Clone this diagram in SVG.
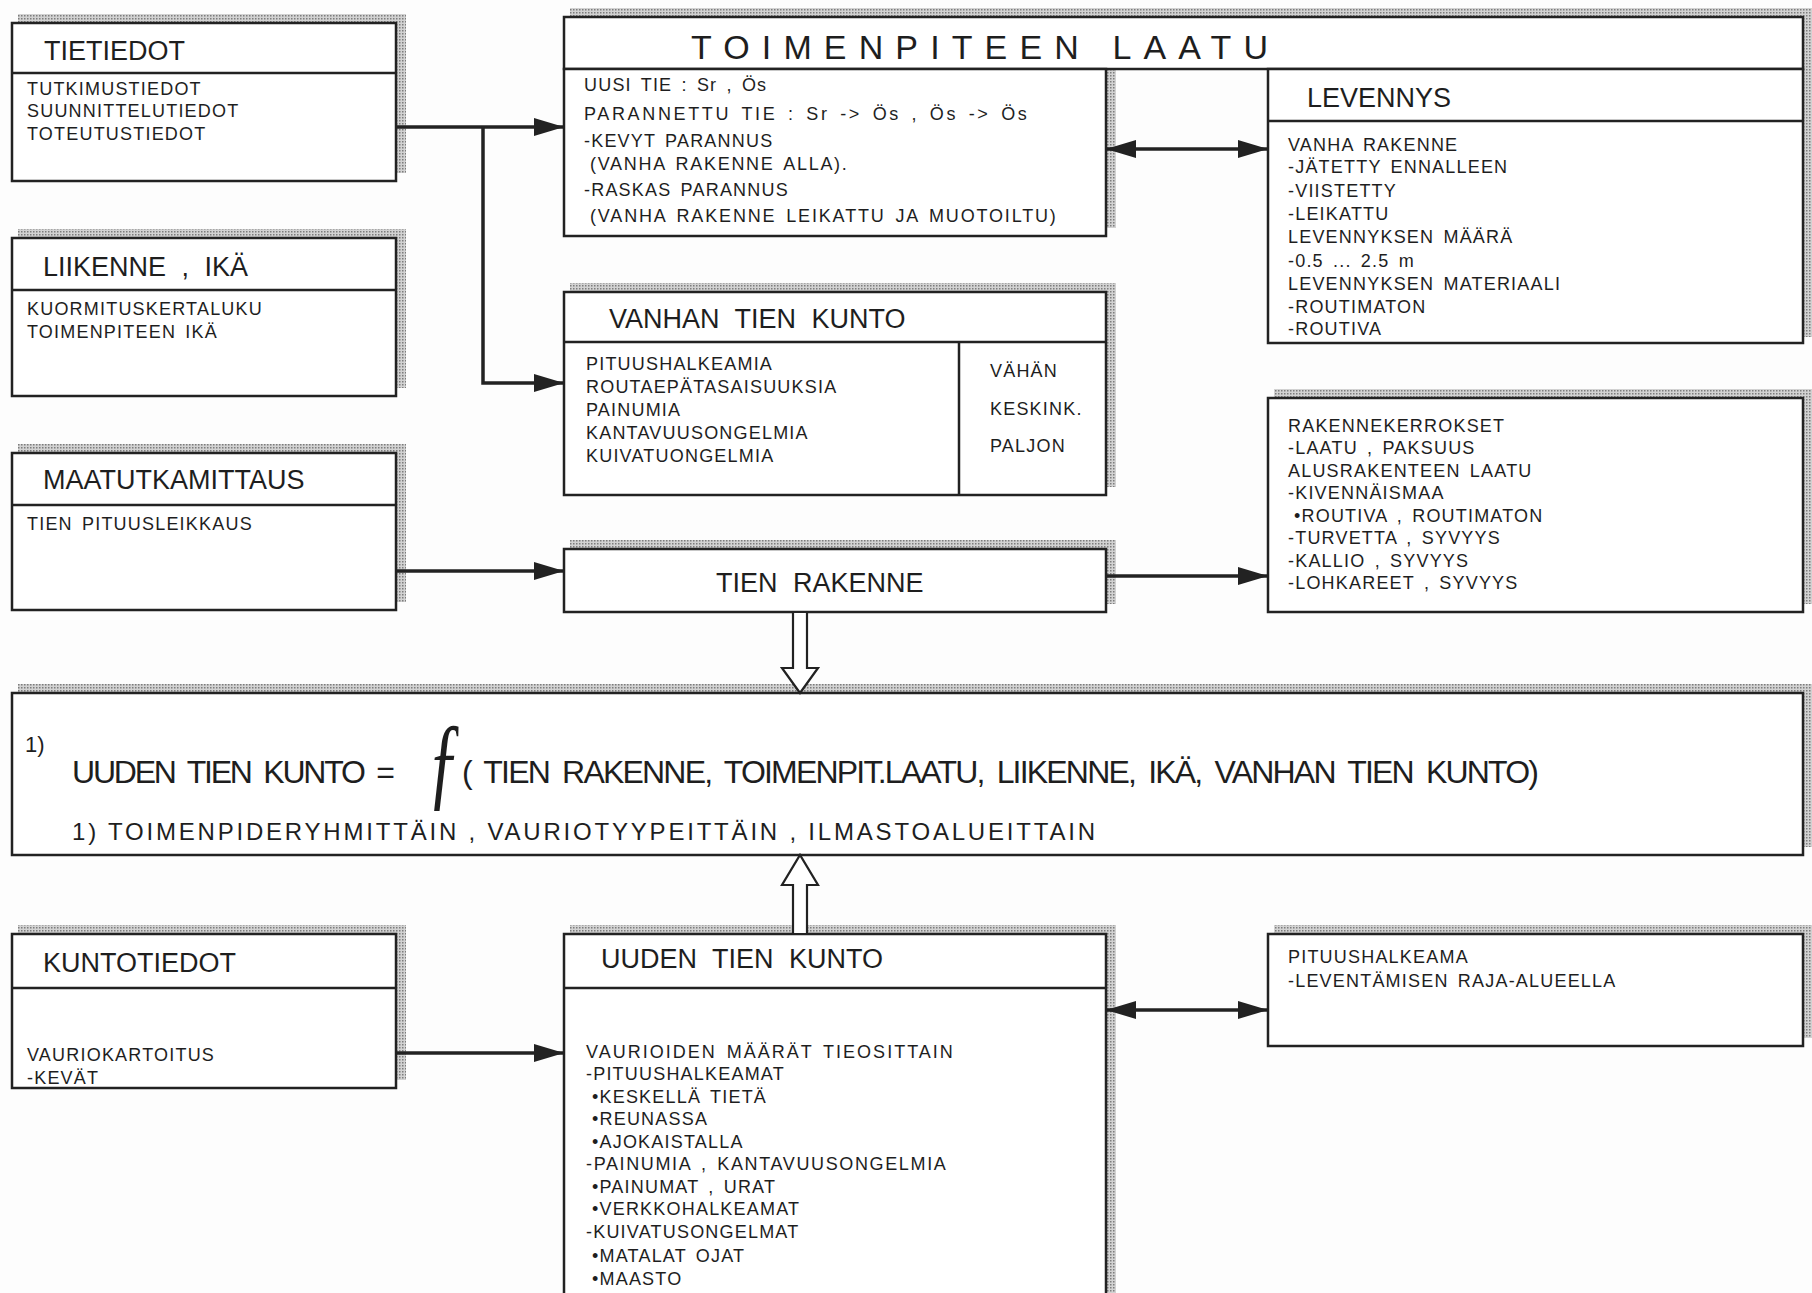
<svg xmlns="http://www.w3.org/2000/svg" width="1812" height="1293" viewBox="0 0 1812 1293">
<style>
.box{fill:#fff;stroke:#222;stroke-width:2.5}
.ln{fill:none;stroke:#222;stroke-width:2.5}
.sh{fill:url(#dots);stroke:none}
text{font-family:"Liberation Sans",Arial,sans-serif;fill:#1e1e1e}
.t{font-size:27px;word-spacing:8px}
.b{font-size:18px;letter-spacing:1.2px;word-spacing:3px}
.f{font-size:32px;word-spacing:6px}
.con{fill:none;stroke:#222;stroke-width:3.5}
.hol{fill:#fff;stroke:#222;stroke-width:2.2}
</style>
<defs>
<pattern id="dots" width="3" height="3" patternUnits="userSpaceOnUse"><rect width="3" height="3" fill="#d2d2d2"/><rect width="1.5" height="1.5" fill="#7c7c7c"/></pattern>
<marker id="ah" viewBox="0 0 30 18" markerWidth="30" markerHeight="18" refX="30" refY="9" orient="auto-start-reverse" markerUnits="userSpaceOnUse"><path d="M0,0 L30,9 L0,18 Z" fill="#222"/></marker>
</defs>
<rect width="1812" height="1293" fill="#fdfdfd"/>

<g id="tietiedot">
<path class="sh" d="M18,14 H406 V173 H396 V23 H18 Z"/>
<rect class="box" x="12" y="23" width="384" height="158"/>
<line class="ln" x1="12" y1="73" x2="396" y2="73"/>
<text class="t" x="44" y="60">TIETIEDOT</text>
<text class="b" x="27" y="95">TUTKIMUSTIEDOT</text>
<text class="b" x="27" y="117">SUUNNITTELUTIEDOT</text>
<text class="b" x="27" y="140">TOTEUTUSTIEDOT</text>
</g>

<g id="liikenne">
<path class="sh" d="M18,229 H406 V388 H396 V238 H18 Z"/>
<rect class="box" x="12" y="238" width="384" height="158"/>
<line class="ln" x1="12" y1="290" x2="396" y2="290"/>
<text class="t" x="43" y="276">LIIKENNE , IKÄ</text>
<text class="b" x="27" y="315">KUORMITUSKERTALUKU</text>
<text class="b" x="27" y="338">TOIMENPITEEN IKÄ</text>
</g>

<g id="maatutkamittaus">
<path class="sh" d="M18,444 H406 V602 H396 V453 H18 Z"/>
<rect class="box" x="12" y="453" width="384" height="157"/>
<line class="ln" x1="12" y1="505" x2="396" y2="505"/>
<text class="t" x="43" y="489">MAATUTKAMITTAUS</text>
<text class="b" x="27" y="530">TIEN PITUUSLEIKKAUS</text>
</g>

<g id="kuntotiedot">
<path class="sh" d="M18,925 H406 V1080 H396 V934 H18 Z"/>
<rect class="box" x="12" y="934" width="384" height="154"/>
<line class="ln" x1="12" y1="988" x2="396" y2="988"/>
<text class="t" x="43" y="972">KUNTOTIEDOT</text>
<text class="b" x="27" y="1061">VAURIOKARTOITUS</text>
<text class="b" x="27" y="1084">-KEVÄT</text>
</g>

<g id="toimenpiteen-laatu">
<path class="sh" d="M570,8 H1812 V337 H1803 V17 H570 Z"/>
<path class="sh" d="M1106,69 H1116 V228 H1106 Z"/>
<rect class="box" x="564" y="17" width="1239" height="52"/>
<text x="691" y="59" font-size="34" textLength="577" lengthAdjust="spacing">TOIMENPITEEN LAATU</text>
<rect class="box" x="564" y="69" width="542" height="167"/>
<text class="b" x="584" y="91">UUSI TIE : Sr , Ös</text>
<text class="b" x="584" y="120" textLength="444" lengthAdjust="spacing">PARANNETTU TIE : Sr -&gt; Ös , Ös -&gt; Ös</text>
<text class="b" x="584" y="147">-KEVYT PARANNUS</text>
<text class="b" x="590" y="170" textLength="258" lengthAdjust="spacing">(VANHA RAKENNE ALLA).</text>
<text class="b" x="584" y="196">-RASKAS PARANNUS</text>
<text class="b" x="590" y="222" textLength="467" lengthAdjust="spacing">(VANHA RAKENNE LEIKATTU JA MUOTOILTU)</text>
</g>

<g id="levennys">
<rect class="box" x="1268" y="69" width="535" height="274"/>
<line class="ln" x1="1268" y1="121" x2="1803" y2="121"/>
<text class="t" x="1307" y="107">LEVENNYS</text>
<text class="b" x="1288" y="151">VANHA RAKENNE</text>
<text class="b" x="1288" y="173">-JÄTETTY ENNALLEEN</text>
<text class="b" x="1288" y="197">-VIISTETTY</text>
<text class="b" x="1288" y="220">-LEIKATTU</text>
<text class="b" x="1288" y="243">LEVENNYKSEN MÄÄRÄ</text>
<text class="b" x="1288" y="267">-0.5 ... 2.5 m</text>
<text class="b" x="1288" y="290">LEVENNYKSEN MATERIAALI</text>
<text class="b" x="1288" y="313">-ROUTIMATON</text>
<text class="b" x="1288" y="335">-ROUTIVA</text>
</g>

<g id="vanhan-tien-kunto">
<path class="sh" d="M570,283 H1116 V487 H1106 V292 H570 Z"/>
<rect class="box" x="564" y="292" width="542" height="203"/>
<line class="ln" x1="564" y1="342" x2="1106" y2="342"/>
<line class="ln" x1="959" y1="342" x2="959" y2="495"/>
<text class="t" x="609" y="328">VANHAN TIEN KUNTO</text>
<text class="b" x="586" y="370">PITUUSHALKEAMIA</text>
<text class="b" x="586" y="393">ROUTAEPÄTASAISUUKSIA</text>
<text class="b" x="586" y="416">PAINUMIA</text>
<text class="b" x="586" y="439">KANTAVUUSONGELMIA</text>
<text class="b" x="586" y="462">KUIVATUONGELMIA</text>
<text class="b" x="990" y="377">VÄHÄN</text>
<text class="b" x="990" y="415">KESKINK.</text>
<text class="b" x="990" y="452">PALJON</text>
</g>

<g id="tien-rakenne">
<path class="sh" d="M570,540 H1116 V604 H1106 V549 H570 Z"/>
<rect class="box" x="564" y="549" width="542" height="63"/>
<text class="t" x="716" y="592">TIEN RAKENNE</text>
</g>

<g id="rakennekerrokset">
<path class="sh" d="M1274,389 H1812 V604 H1803 V398 H1274 Z"/>
<rect class="box" x="1268" y="398" width="535" height="214"/>
<text class="b" x="1288" y="432">RAKENNEKERROKSET</text>
<text class="b" x="1288" y="454">-LAATU , PAKSUUS</text>
<text class="b" x="1288" y="477">ALUSRAKENTEEN LAATU</text>
<text class="b" x="1288" y="499">-KIVENNÄISMAA</text>
<text class="b" x="1294" y="522">•ROUTIVA , ROUTIMATON</text>
<text class="b" x="1288" y="544">-TURVETTA , SYVYYS</text>
<text class="b" x="1288" y="567">-KALLIO , SYVYYS</text>
<text class="b" x="1288" y="589">-LOHKAREET , SYVYYS</text>
</g>

<g id="kaava">
<path class="sh" d="M18,684 H1812 V847 H1803 V693 H18 Z"/>
<rect class="box" x="12" y="693" width="1791" height="162"/>
<text x="25" y="752" font-size="22">1)</text>
<text class="f" x="72" y="783" textLength="323" lengthAdjust="spacing">UUDEN TIEN KUNTO =</text>
<text transform="translate(427,796) scale(0.9,1.4)" font-size="76" font-style="italic" style="font-family:'Liberation Serif','DejaVu Serif',serif">ƒ</text>
<text class="f" x="462" y="783" textLength="1077" lengthAdjust="spacing">( TIEN RAKENNE, TOIMENPIT.LAATU, LIIKENNE, IKÄ, VANHAN TIEN KUNTO)</text>
<text x="72" y="840" font-size="24" textLength="1023" lengthAdjust="spacing">1) TOIMENPIDERYHMITTÄIN , VAURIOTYYPEITTÄIN , ILMASTOALUEITTAIN</text>
</g>

<g id="uuden-tien-kunto">
<path class="sh" d="M570,925 H1116 V1293 H1106 V934 H570 Z"/>
<rect class="box" x="564" y="934" width="542" height="362"/>
<line class="ln" x1="564" y1="988" x2="1106" y2="988"/>
<text class="t" x="601" y="968">UUDEN TIEN KUNTO</text>
<text class="b" x="586" y="1058" textLength="368" lengthAdjust="spacing">VAURIOIDEN MÄÄRÄT TIEOSITTAIN</text>
<text class="b" x="586" y="1080">-PITUUSHALKEAMAT</text>
<text class="b" x="592" y="1103">•KESKELLÄ TIETÄ</text>
<text class="b" x="592" y="1125">•REUNASSA</text>
<text class="b" x="592" y="1148">•AJOKAISTALLA</text>
<text class="b" x="586" y="1170" textLength="361" lengthAdjust="spacing">-PAINUMIA , KANTAVUUSONGELMIA</text>
<text class="b" x="592" y="1193">•PAINUMAT , URAT</text>
<text class="b" x="592" y="1215">•VERKKOHALKEAMAT</text>
<text class="b" x="586" y="1238">-KUIVATUSONGELMAT</text>
<text class="b" x="592" y="1262">•MATALAT OJAT</text>
<text class="b" x="592" y="1285">•MAASTO</text>
</g>

<g id="pituushalkeama">
<path class="sh" d="M1274,925 H1812 V1038 H1803 V934 H1274 Z"/>
<rect class="box" x="1268" y="934" width="535" height="112"/>
<text class="b" x="1288" y="963">PITUUSHALKEAMA</text>
<text class="b" x="1288" y="987">-LEVENTÄMISEN RAJA-ALUEELLA</text>
</g>

<g id="connectors">
<path class="con" d="M396,127 H564" marker-end="url(#ah)"/>
<path class="con" d="M483,127 V383 H564" marker-end="url(#ah)"/>
<path class="con" d="M396,571 H564" marker-end="url(#ah)"/>
<path class="con" d="M1106,149 H1268" marker-start="url(#ah)" marker-end="url(#ah)"/>
<path class="con" d="M1106,576 H1268" marker-end="url(#ah)"/>
<path class="con" d="M396,1053 H564" marker-end="url(#ah)"/>
<path class="con" d="M1106,1010 H1268" marker-start="url(#ah)" marker-end="url(#ah)"/>
<polygon class="hol" points="793,612 793,668 782,668 800,693 818,668 807,668 807,612"/>
<polygon class="hol" points="793,934 793,885 782,885 800,855 818,885 807,885 807,934"/>
</g>
</svg>
